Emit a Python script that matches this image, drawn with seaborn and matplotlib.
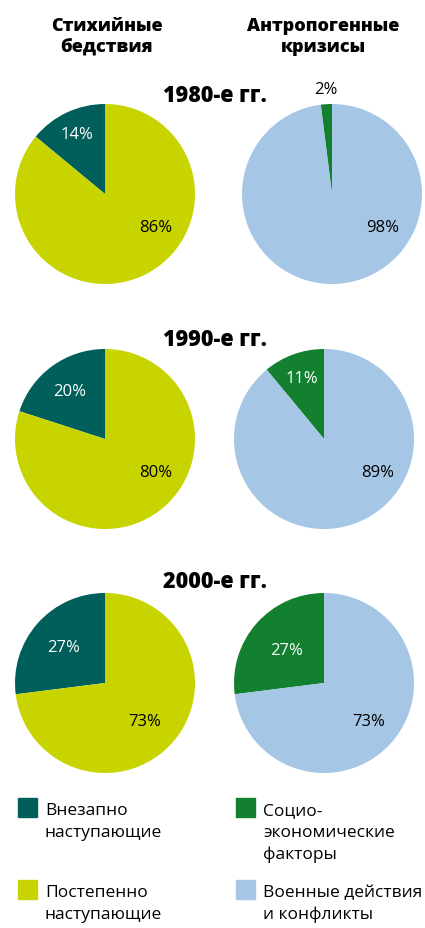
import matplotlib
matplotlib.use("Agg")
import matplotlib.pyplot as plt
import seaborn as sns
import numpy as np

# ---- data ----
decades = ["1980-е гг.", "1990-е гг.", "2000-е гг."]
natural_sudden = [14, 20, 27]
natural_gradual = [86, 80, 73]
human_socio = [2, 11, 27]
human_conflict = [98, 89, 73]

col_titles = ["Стихийные\nбедствия", "Антропогенные\nкризисы"]
legend_labels = ["Внезапно\nнаступающие", "Постепенно\nнаступающие",
                 "Социо-\nэкономические\nфакторы", "Военные действия\nи конфликты"]

# ---- style ----
sns.set_theme(style="white")
plt.rcParams['font.family'] = ['Open Sans', 'DejaVu Sans']
plt.rcParams['text.color'] = 'black'

C_TEAL = "#005f5a"
C_YELLOW = "#c8d400"
C_GREEN = "#138030"
C_BLUE = "#a6c6e6"

W, H = 425, 929
fig = plt.figure(figsize=(W / 100, H / 100), dpi=100)

R = 90
centers_left = [(105, 195), (105, 440), (105, 684)]
centers_right = [(332, 195), (324, 440), (324, 684)]
title_y = [96, 340, 582]
small_dist_left = [0.74, 0.66, 0.61]
small_dist_right = [1.17, 0.72, 0.56]
big_pos_left = [(0.56, -0.37), (0.56, -0.37), (0.44, -0.42)]
big_pos_right = [(0.56, -0.37), (0.60, -0.37), (0.50, -0.42)]
PCT_FS = 12


def pie_ax(cx, cy):
    ax = fig.add_axes([(cx - R) / W, 1 - (cy + R) / H, 2 * R / W, 2 * R / H])
    ax.set_xlim(-1, 1)
    ax.set_ylim(-1, 1)
    ax.set_aspect("equal")
    ax.axis("off")
    return ax


def draw(ax, small, big, c_small, c_big, sdist, bpos, small_txt_color):
    ax.pie([small, big], colors=[c_small, c_big], startangle=90,
           counterclock=True, radius=1, wedgeprops=dict(linewidth=0))
    ax.set_xlim(-1, 1)
    ax.set_ylim(-1, 1)
    theta = np.deg2rad(90 + small * 3.6 / 2)
    ax.text(sdist * np.cos(theta), sdist * np.sin(theta), f"{small}%",
            ha="center", va="center", fontsize=PCT_FS, color=small_txt_color,
            clip_on=False)
    ax.text(bpos[0], bpos[1], f"{big}%", ha="center", va="center",
            fontsize=PCT_FS, color="black")


for i in range(3):
    axl = pie_ax(*centers_left[i])
    draw(axl, natural_sudden[i], natural_gradual[i], C_TEAL, C_YELLOW,
         small_dist_left[i], big_pos_left[i], "white")
    axr = pie_ax(*centers_right[i])
    draw(axr, human_socio[i], human_conflict[i], C_GREEN, C_BLUE,
         small_dist_right[i], big_pos_right[i],
         "black" if small_dist_right[i] > 1 else "white")
    fig.text(215 / W, 1 - title_y[i] / H, decades[i], ha="center", va="center",
             fontsize=15.5, fontweight="heavy", color="black")

# column titles
fig.text(107 / W, 1 - 37 / H, col_titles[0], ha="center", va="center",
         fontsize=13, fontweight="heavy", linespacing=1.25, color="black")
fig.text(323 / W, 1 - 37 / H, col_titles[1], ha="center", va="center",
         fontsize=13, fontweight="heavy", linespacing=1.25, color="black")

# legend
leg_colors = [C_TEAL, C_YELLOW, C_GREEN, C_BLUE]
leg_sq = [(18, 799), (18, 881), (236, 799), (236, 881)]
SQ = 19
for (x, y), col, lab in zip(leg_sq, leg_colors, legend_labels):
    fig.patches.append(plt.Rectangle((x / W, 1 - (y + SQ) / H), SQ / W, SQ / H,
                                     transform=fig.transFigure, color=col,
                                     figure=fig))
    fig.text((x + 27) / W, 1 - (y + 4) / H, lab, ha="left", va="top",
             fontsize=12.5, linespacing=1.47, color="black")

fig.savefig("out.png", dpi=100)
